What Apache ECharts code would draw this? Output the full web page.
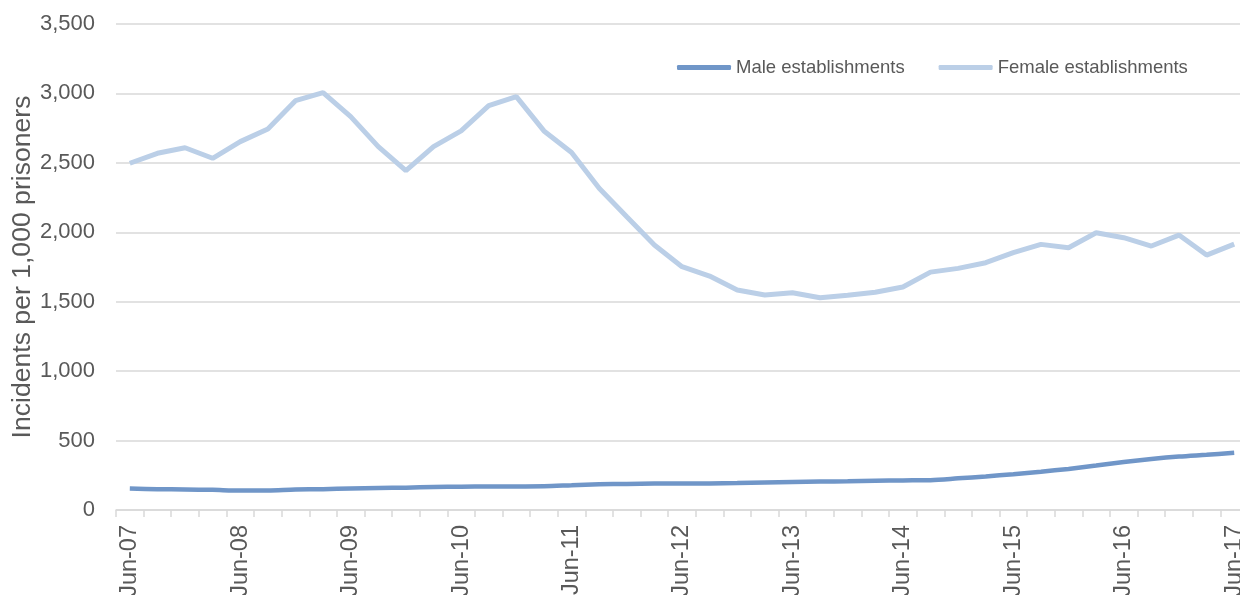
<!DOCTYPE html>
<html>
<head>
<meta charset="utf-8">
<script src="https://cdn.jsdelivr.net/npm/echarts@6/dist/echarts.min.js"></script>
<style>
html,body{margin:0;padding:0;background:#fff;}
#chart{width:1240px;height:595px;}
</style>
</head>
<body>
<div id="chart"></div>
<script>
const categories = (function(){
  const out = [];
  const m = ['Jun','Sep','Dec','Mar'];
  for (let i = 0; i < 41; i++) {
    const q = i % 4;
    const yr = 7 + Math.floor(i / 4) + (q === 3 ? 1 : 0);
    out.push(m[q] + '-' + String(yr).padStart(2, '0'));
  }
  return out;
})();
const maleValues = [155,150,148,145,140,141,147,150,155,158,161,165,168,170,170,171,178,185,188,190,190,191,194,198,202,205,207,210,213,215,228,242,258,276,296,320,345,367,385,398,412];
const femaleValues = [2497,2569,2609,2533,2653,2744,2948,3006,2833,2617,2444,2617,2730,2912,2977,2730,2575,2317,2112,1908,1752,1685,1584,1548,1565,1529,1546,1568,1606,1713,1740,1781,1853,1913,1889,1997,1961,1901,1980,1836,1915];
const yTicks = {min: 0, max: 3500, interval: 500};
const yTitle = 'Incidents per 1,000 prisoners';

const chart = echarts.init(document.getElementById('chart'), null, {renderer: 'canvas'});
const font = 'Liberation Sans, Arial, sans-serif';
chart.setOption({
  animation: false,
  backgroundColor: '#ffffff',
  grid: {left: 116, right: -8, top: 24, bottom: 85, containLabel: false, outerBoundsMode: 'none'},
  legend: {
    left: 672, top: 53,
    icon: 'roundRect', itemWidth: 54, itemHeight: 5, itemGap: 34,
    textStyle: {fontFamily: font, fontSize: 18.5, color: '#595959'},
    data: ['Male establishments', 'Female establishments']
  },
  xAxis: {
    type: 'category',
    data: categories,
    boundaryGap: true,
    axisLine: {show: true, lineStyle: {color: '#d9d9d9', width: 1.5}},
    axisTick: {show: true, interval: 0, length: 7, lineStyle: {color: '#d9d9d9', width: 1.5}},
    axisLabel: {interval: 3, rotate: 90, margin: 15, fontFamily: font, fontSize: 23.5, color: '#595959'},
    splitLine: {show: false}
  },
  yAxis: {
    type: 'value',
    min: yTicks.min, max: yTicks.max, interval: yTicks.interval,
    name: yTitle,
    nameLocation: 'middle',
    nameGap: 80,
    nameMoveOverlap: false,
    nameTextStyle: {fontFamily: font, fontSize: 26.6, color: '#595959'},
    axisLine: {show: false},
    axisTick: {show: false},
    axisLabel: {margin: 21, fontFamily: font, fontSize: 22, color: '#595959',
      formatter: v => v.toLocaleString('en-US')},
    splitLine: {lineStyle: {color: '#d9d9d9', width: 1.5}}
  },
  series: [
    {name: 'Male establishments', type: 'line', data: maleValues, showSymbol: false, smooth: 0.3,
     lineStyle: {color: '#7096c8', width: 4.5}, itemStyle: {color: '#7096c8'}},
    {name: 'Female establishments', type: 'line', data: femaleValues, showSymbol: false,
     lineStyle: {color: '#bbcfe7', width: 5}, itemStyle: {color: '#bbcfe7'}}
  ]
});
</script>
</body>
</html>
